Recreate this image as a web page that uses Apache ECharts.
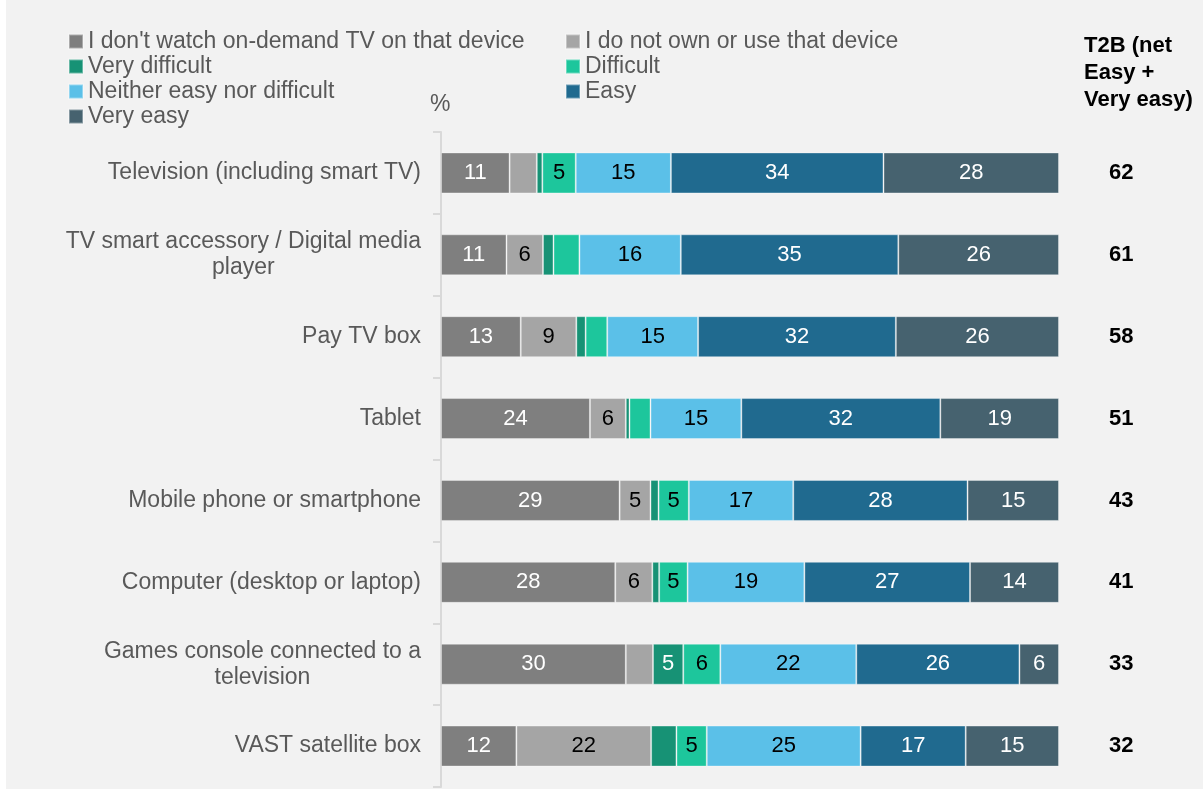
<!DOCTYPE html>
<html>
<head>
  <meta charset="utf-8">
  <title>On-demand TV ease of use by device</title>
  <script src="https://cdn.jsdelivr.net/npm/echarts@6/dist/echarts.min.js"></script>
  <style>
    body { margin: 0; background: #ffffff; }
    #chart {
      position: absolute;
      left: 6px;
      top: 0;
      width: 1197px;
      height: 789px;
      background: #f2f2f2;
    }
  </style>
</head>
<body>
<div id="chart"></div>
<script>
  var categories = [
    'Television (including smart TV)',
    'TV smart accessory / Digital media\nplayer',
    'Pay TV box',
    'Tablet',
    'Mobile phone or smartphone',
    'Computer (desktop or laptop)',
    'Games console connected to a\ntelevision',
    'VAST satellite box'
  ];
  var seriesNames = [
    "I don't watch on-demand TV on that device",
    'I do not own or use that device',
    'Very difficult',
    'Difficult',
    'Neither easy nor difficult',
    'Easy',
    'Very easy'
  ];
  var dontWatch     = [11.1, 10.6, 12.9, 24.1, 28.9, 28.2, 29.9, 12.2];
  var dontOwn       = [4.4, 5.9, 9.0, 5.8, 5.0, 6.0, 4.4, 21.8];
  var veryDifficult = [0.9, 1.7, 1.5, 0.6, 1.3, 1.1, 4.9, 4.1];
  var difficult     = [5.4, 4.2, 3.5, 3.4, 4.9, 4.6, 6.0, 4.9];
  var neither       = [15.4, 16.4, 14.7, 14.7, 16.9, 18.9, 22.0, 24.9];
  var easy          = [34.4, 35.2, 32.0, 32.2, 28.2, 26.8, 26.4, 17.0];
  var veryEasy      = [28.4, 26.0, 26.4, 19.2, 14.8, 14.4, 6.4, 15.1];
  var t2b = [62, 61, 58, 51, 43, 41, 33, 32];

  var colors = ['#7f7f7f', '#a5a5a5', '#179275', '#1dc69c', '#5bc0e8', '#206a8f', '#46626f'];
  var labelColors = ['#ffffff', '#000000', '#ffffff', '#000000', '#000000', '#ffffff', '#ffffff'];
  var values = [dontWatch, dontOwn, veryDifficult, difficult, neither, easy, veryEasy];
  var font = 'Liberation Sans, Arial, sans-serif';

  var chart = echarts.init(document.getElementById('chart'));

  var series = [];
  for (var i = 0; i < seriesNames.length; i++) {
    series.push({
      name: seriesNames[i],
      type: 'bar',
      stack: 'total',
      barWidth: 41,
      data: values[i],
      itemStyle: {
        color: colors[i],
        borderColor: 'rgba(255,255,255,0.35)',
        borderWidth: 1
      },
      label: {
        show: true,
        position: 'inside',
        color: labelColors[i],
        fontFamily: font,
        fontSize: 22,
        formatter: function (p) {
          return p.value >= 4.5 ? Math.round(p.value) : '';
        }
      }
    });
  }

  var legendText = { color: '#595959', fontFamily: font, fontSize: 23, lineHeight: 25 };

  chart.setOption({
    animation: false,
    legend: [
      {
        orient: 'vertical',
        left: 62,
        top: 29,
        padding: 0,
        itemWidth: 14,
        itemHeight: 14,
        itemGap: 0,
        itemTextGap: 4,
        icon: 'rect',
        selectedMode: false,
        textStyle: legendText,
        data: [seriesNames[0], seriesNames[2], seriesNames[4], seriesNames[6]]
      },
      {
        orient: 'vertical',
        left: 559,
        top: 29,
        padding: 0,
        itemWidth: 14,
        itemHeight: 14,
        itemGap: 0,
        itemTextGap: 4,
        icon: 'rect',
        selectedMode: false,
        textStyle: legendText,
        data: [seriesNames[1], seriesNames[3], seriesNames[5]]
      }
    ],
    graphic: [
      {
        type: 'text',
        left: 424,
        top: 93,
        style: { text: '%', fill: '#595959', font: '23px ' + font }
      },
      {
        type: 'text',
        left: 1078,
        top: 32,
        style: {
          text: 'T2B (net\nEasy +\nVery easy)',
          fill: '#000000',
          font: 'bold 22px ' + font,
          lineHeight: 27
        }
      }
    ],
    grid: { left: 435, right: 144, top: 132, bottom: 2 },
    xAxis: { type: 'value', min: 0, max: 100, show: false },
    yAxis: [
      {
        type: 'category',
        inverse: true,
        data: categories,
        axisLine: { show: true, lineStyle: { color: '#d9d9d9', width: 2 } },
        axisTick: { show: true, inside: false, length: 8, lineStyle: { color: '#d9d9d9', width: 2 } },
        axisLabel: {
          margin: 20,
          color: '#595959',
          fontFamily: font,
          fontSize: 23,
          lineHeight: 26,
          formatter: function (v) {
            return v.split('\n').map(function (s) { return '{c|' + s + '}'; }).join('\n');
          },
          rich: {
            c: { align: 'center', color: '#595959', fontFamily: font, fontSize: 23, lineHeight: 26 }
          }
        }
      },
      {
        type: 'category',
        inverse: true,
        position: 'right',
        data: t2b,
        axisLine: { show: false },
        axisTick: { show: false },
        axisLabel: {
          margin: 50,
          color: '#000000',
          fontFamily: font,
          fontSize: 22,
          fontWeight: 'bold'
        }
      }
    ],
    series: series
  });
</script>
</body>
</html>
